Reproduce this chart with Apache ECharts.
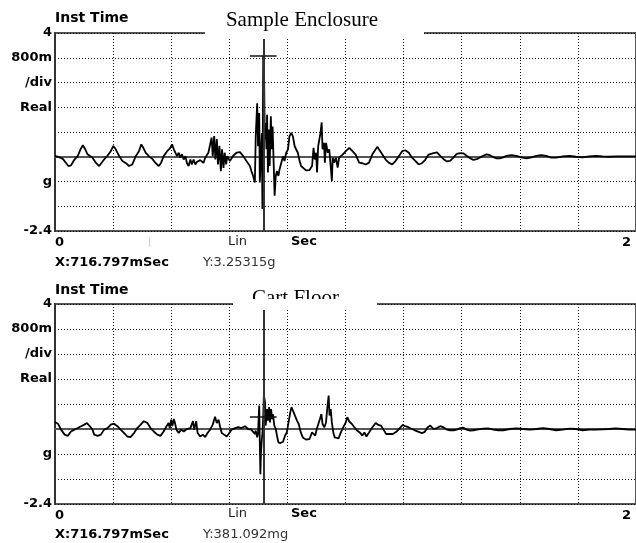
<!DOCTYPE html>
<html>
<head>
<meta charset="utf-8">
<script src="https://cdn.jsdelivr.net/npm/echarts@6/dist/echarts.min.js"></script>
<style>
  html, body { margin: 0; padding: 0; background: #fff; }
  #main { width: 636px; height: 543px; }
</style>
</head>
<body>
<div id="main"></div>
<script>
// time in ms, acceleration in g
var enclosureTimes = [0, 10, 27, 38, 46, 55, 67, 78, 89, 96, 103, 112, 129, 141, 152, 158, 169, 181, 192, 201, 209, 221, 232, 243, 255, 266, 278, 289, 297, 304, 312, 323, 335, 346, 357, 365, 374, 386, 395, 403, 409, 420, 426, 431, 437, 443, 449, 454, 460, 466, 471, 477, 483, 488, 500, 511, 517, 523, 528, 534, 539, 543, 548, 552, 557, 561, 566, 571, 575, 580, 584, 589, 593, 602, 614, 625, 637, 648, 659, 671, 676, 682, 688, 691, 696, 699, 703, 705, 708, 712, 714, 716.797, 720, 722, 725, 728, 730, 733, 737, 739, 743, 746, 749, 753, 756, 760, 764, 769, 773, 779, 785, 790, 796, 802, 807, 813, 819, 825, 830, 836, 842, 847, 853, 864, 876, 885, 890, 894, 899, 902, 906, 910, 914, 918, 921, 926, 929, 933, 939, 944, 950, 953, 956, 961, 967, 973, 978, 984, 990, 1001, 1013, 1024, 1035, 1047, 1058, 1070, 1081, 1092, 1104, 1110, 1115, 1127, 1138, 1149, 1161, 1172, 1184, 1195, 1206, 1218, 1229, 1241, 1252, 1263, 1275, 1286, 1303, 1315, 1326, 1338, 1349, 1360, 1372, 1383, 1395, 1406, 1417, 1429, 1440, 1452, 1463, 1474, 1486, 1497, 1509, 1520, 1531, 1543, 1554, 1571, 1588, 1606, 1623, 1640, 1657, 1674, 1691, 1708, 1725, 1748, 1771, 1794, 1816, 1839, 1862, 1885, 1908, 1930, 1953, 1976, 2000];
var enclosureValues = [0.02, 0, -0.07, -0.20, -0.30, -0.28, -0.09, 0.02, 0.26, 0.37, 0.26, 0.08, -0.03, -0.20, -0.30, -0.33, -0.09, 0.04, 0.18, 0.35, 0.24, 0.02, -0.14, -0.20, -0.30, -0.25, 0.02, 0.18, 0.40, 0.29, 0.13, 0.02, -0.07, -0.20, -0.30, -0.20, 0.02, 0.18, 0.26, 0.40, 0.24, 0.02, 0.13, -0.03, 0.08, -0.09, 0.02, -0.20, -0.30, -0.09, -0.25, -0.09, -0.25, -0.17, -0.11, -0.20, -0.03, 0.02, 0.13, 0.18, 0.62, 0.02, 0.67, -0.09, 0.57, -0.25, 0.35, -0.47, 0.24, -0.36, 0.13, -0.25, 0.02, -0.14, 0.04, 0.13, 0.15, 0.02, -0.14, -0.30, -0.46, -0.62, -0.83, 0.66, 1.73, 0.34, 1.41, -0.83, -0.09, 0.77, -1.69, 3.25315, 2.48, 0.56, 1.09, 0.24, 1.36, -0.51, 0.88, -0.30, 1.31, 0.24, 0.98, -0.30, -1.26, -0.62, -0.46, -0.62, -0.41, -0.35, 0.02, -0.14, 0.13, 0.24, 0.66, 0.77, 0.66, 0.34, 0.34, 0.13, -0.14, -0.30, -0.35, -0.44, -0.43, -0.30, 0.29, -0.09, 0.13, -0.51, 0.34, 0.56, 0.77, 1.11, 0.24, 0.45, -0.19, 0.45, 0.13, 0.24, -0.41, -0.78, -0.03, -0.19, -0.03, -0.35, -0.03, -0.09, 0.07, 0.18, 0.29, 0.18, 0.07, -0.19, -0.21, -0.25, -0.19, 0.07, 0.24, 0.32, 0.24, 0.07, -0.09, -0.19, -0.25, -0.14, 0.02, 0.18, 0.21, 0.13, -0.03, -0.14, -0.25, -0.21, -0.09, 0.07, 0.12, 0.14, 0.03, -0.08, -0.15, -0.13, -0.02, 0.09, 0.12, 0.11, 0.03, -0.05, -0.10, -0.08, -0.02, 0.03, 0.08, 0.05, -0.01, -0.05, -0.05, -0.02, 0.03, 0.05, 0.03, -0.02, -0.05, -0.02, 0.03, 0.05, 0.03, -0.03, -0.03, 0.01, 0.03, 0, -0.02, 0.01, 0.03, 0.01, 0, 0.01, 0.01, 0.01, 0.01];

var floorTimes = [0, 10, 21, 33, 44, 55, 67, 78, 90, 101, 110, 118, 129, 135, 147, 158, 169, 181, 192, 203, 215, 226, 238, 249, 260, 272, 283, 295, 306, 318, 329, 340, 352, 363, 374, 384, 391, 395, 400, 404, 409, 413, 418, 426, 434, 443, 454, 466, 475, 479, 486, 491, 500, 509, 517, 525, 534, 543, 551, 557, 563, 568, 574, 582, 591, 600, 608, 620, 631, 642, 654, 665, 676, 682, 688, 691, 696, 699, 703, 705, 707, 709, 712, 714, 716.797, 719, 721, 723, 725, 728, 730, 733, 737, 740, 744, 747, 750, 755, 760, 764, 769, 776, 785, 792, 798, 803, 810, 814, 819, 826, 833, 839, 846, 853, 864, 876, 885, 890, 896, 901, 906, 912, 917, 921, 927, 933, 937, 942, 945, 949, 953, 958, 963, 969, 976, 984, 992, 1001, 1006, 1013, 1022, 1031, 1040, 1049, 1058, 1065, 1072, 1081, 1092, 1104, 1113, 1122, 1131, 1140, 1152, 1163, 1175, 1186, 1197, 1206, 1218, 1229, 1241, 1252, 1263, 1273, 1282, 1292, 1303, 1315, 1326, 1338, 1349, 1360, 1372, 1383, 1395, 1406, 1417, 1429, 1440, 1452, 1474, 1491, 1509, 1526, 1543, 1566, 1588, 1611, 1634, 1657, 1680, 1702, 1725, 1748, 1771, 1794, 1816, 1839, 1862, 1885, 1908, 1930, 1953, 1976, 2000];
var floorValues = [0.22, 0.17, -0.02, -0.18, -0.22, -0.08, -0.02, 0.03, 0.09, 0.14, 0.19, 0.11, -0.02, -0.18, -0.22, -0.18, -0.02, 0.03, 0.14, 0.17, 0.09, -0.02, -0.13, -0.24, -0.26, -0.13, 0.03, 0.14, 0.25, 0.19, 0.03, -0.08, -0.18, -0.22, -0.08, 0.09, 0.19, 0.03, 0.30, 0.09, 0.32, 0.19, -0.02, -0.13, -0.02, -0.08, 0, 0.03, 0.25, -0.02, 0.25, -0.13, -0.24, -0.18, -0.26, -0.13, -0.02, 0.14, 0.39, 0.19, 0.30, 0.09, -0.13, -0.18, -0.24, -0.13, -0.02, 0.03, 0.06, 0.03, 0.09, 0, -0.02, -0.05, -0.16, -0.05, -0.27, -0.11, 0.75, -0.43, -1.45, -0.75, -0.32, -0.16, 0.381092, 1.07, 0.97, 0.86, 0.11, 0.38, 0.64, 0.27, 0.70, 0.21, 0.64, 0.32, 0.48, 0.11, 0, -0.21, -0.43, -0.45, -0.41, -0.21, -0.11, -0.05, 0.54, 0.70, 0.59, 0.43, 0.27, 0.16, -0.11, -0.27, -0.34, -0.32, -0.11, -0.05, -0.21, 0, 0.05, 0.32, 0.48, 0.16, 0.05, 0.21, 0.64, 1.07, 0.43, 0.64, 0.21, -0.11, -0.27, -0.21, -0.30, -0.11, 0.05, 0.21, 0.38, 0.24, 0.16, 0.05, -0.05, -0.11, -0.21, -0.11, -0.24, -0.11, 0.05, 0.19, 0.13, 0.11, -0.02, -0.16, -0.16, -0.16, -0.09, 0.02, 0.13, 0.09, 0.05, 0, -0.05, -0.09, -0.13, -0.09, 0.05, 0.11, 0, 0.03, 0.09, 0.05, -0.02, -0.04, -0.04, -0.02, 0.03, 0.04, -0.02, -0.05, -0.04, -0.02, 0.01, 0.02, -0.02, -0.04, -0.04, 0, 0.02, 0, -0.02, 0, 0.03, 0, -0.04, -0.02, 0.01, 0, -0.04, -0.02, -0.02, -0.01, 0, 0.02, 0, -0.02, -0.02];

var yTickValues = [-2.4, -1.6, -0.8, 0, 0.8, 1.6, 2.4, 3.2, 4];
var yTickLabels = ['-2.4', '', 'g', '', '', 'Real', '/div', '800m', '4'];

var cursorTime = 716.797;      // ms
var cursorEnclosure = 3.25315; // g
var cursorFloor = 0.381092;    // g
var crossHalfWidth = 46;       // ms

function toPairs(times, values) {
  return times.map(function (t, i) { return [t / 1000, values[i]]; });
}

var chart = echarts.init(document.getElementById('main'));
var sans = 'DejaVu Sans';
var gridLine = { color: '#111', width: 1, type: [1, 2] };

function xAxisFor(idx) {
  return {
    type: 'value', gridIndex: idx, min: 0, max: 2, interval: 0.2,
    axisLine: { show: true, lineStyle: { color: '#555', width: 2 } },
    axisTick: { show: false },
    splitLine: { show: true, lineStyle: gridLine },
    axisLabel: {
      margin: 5, fontFamily: sans, fontWeight: 'bold', fontSize: 13, color: '#000',
      alignMinLabel: 'left', alignMaxLabel: 'right',
      formatter: function (v) {
        if (Math.abs(v) < 1e-6) return '0';
        if (Math.abs(v - 2) < 1e-6) return '{r|2}';
        return '';
      },
      rich: { r: { fontFamily: sans, fontWeight: 'bold', fontSize: 13, padding: [0, 5, 0, 0] } }
    }
  };
}
function yAxisFor(idx) {
  return {
    type: 'value', gridIndex: idx, min: -2.4, max: 4, interval: 0.8,
    axisLine: { show: true, lineStyle: { color: '#333', width: 2 } },
    axisTick: { show: false },
    splitLine: { show: true, lineStyle: gridLine },
    axisLabel: {
      margin: 3, fontFamily: sans, fontWeight: 'bold', fontSize: 13, color: '#000',
      formatter: function (v) {
        var k = Math.round((v - yTickValues[0]) / 0.8);
        return yTickLabels[k] || '';
      }
    }
  };
}
function seriesFor(idx, name, times, values, cy) {
  var t = cursorTime / 1000, h = crossHalfWidth / 1000;
  return {
    name: name, type: 'line', xAxisIndex: idx, yAxisIndex: idx,
    data: toPairs(times, values),
    showSymbol: false, animation: false,
    lineStyle: { color: '#000', width: 1.8 },
    markLine: {
      silent: true, symbol: ['none', 'none'], animation: false,
      label: { show: false },
      data: [
        { xAxis: t, lineStyle: { color: '#333', width: 2, type: 'solid' } },
        [{ coord: [t - h, cy], lineStyle: { color: '#111', width: 1.5, type: 'solid' } }, { coord: [t + h, cy] }]
      ]
    }
  };
}
function txt(x, y, s, opts) {
  return {
    type: 'text', x: x, y: y, z: 110,
    style: Object.assign({
      text: s, fontFamily: sans, fontSize: 13, fill: '#000',
      textAlign: 'left', textVerticalAlign: 'middle'
    }, opts || {})
  };
}

chart.setOption({
  backgroundColor: '#fff',
  animation: false,
  grid: [
    { left: 55, top: 33, width: 585, height: 198, show: true, borderColor: '#555', borderWidth: 2 },
    { left: 55, top: 304, width: 585, height: 200, show: true, borderColor: '#555', borderWidth: 2 }
  ],
  xAxis: [xAxisFor(0), xAxisFor(1)],
  yAxis: [yAxisFor(0), yAxisFor(1)],
  series: [
    seriesFor(0, 'Sample Enclosure', enclosureTimes, enclosureValues, cursorEnclosure),
    seriesFor(1, 'Cart Floor', floorTimes, floorValues, cursorFloor)
  ],
  graphic: [
    // title boxes
    { type: 'rect', z: 100, shape: { x: 205, y: 4, width: 219, height: 35 }, style: { fill: '#fff' } },
    txt(302, 20, 'Sample Enclosure', { fontFamily: 'Liberation Serif', fontSize: 21, textAlign: 'center' }),
    { type: 'rect', z: 100, shape: { x: 233, y: 280, width: 144, height: 30 }, style: { fill: '#fff' } },
    txt(252, 298, 'Cart Floor', { fontFamily: 'Liberation Serif', fontSize: 21 }),
    { type: 'rect', z: 120, shape: { x: 233, y: 299, width: 144, height: 11 }, style: { fill: '#fff' } },
    // top panel texts
    txt(55, 18, 'Inst Time', { fontWeight: 'bold', fontSize: 14 }),
    txt(228, 242, 'Lin', { fill: '#222' }),
    txt(291, 242, 'Sec', { fontWeight: 'bold' }),
    txt(55, 263, 'X:716.797mSec', { fontWeight: 'bold' }),
    txt(203, 263, 'Y:3.25315g', { fill: '#333' }),
    { type: 'line', z: 100, shape: { x1: 149.5, y1: 237, x2: 149.5, y2: 247 }, style: { stroke: '#ccc', lineWidth: 1 } },
    // bottom panel texts
    txt(55, 290, 'Inst Time', { fontWeight: 'bold', fontSize: 14 }),
    txt(228, 514, 'Lin', { fill: '#222' }),
    txt(291, 514, 'Sec', { fontWeight: 'bold' }),
    txt(55, 535, 'X:716.797mSec', { fontWeight: 'bold' }),
    txt(203, 535, 'Y:381.092mg', { fill: '#333' })
  ]
});
</script>
</body>
</html>
